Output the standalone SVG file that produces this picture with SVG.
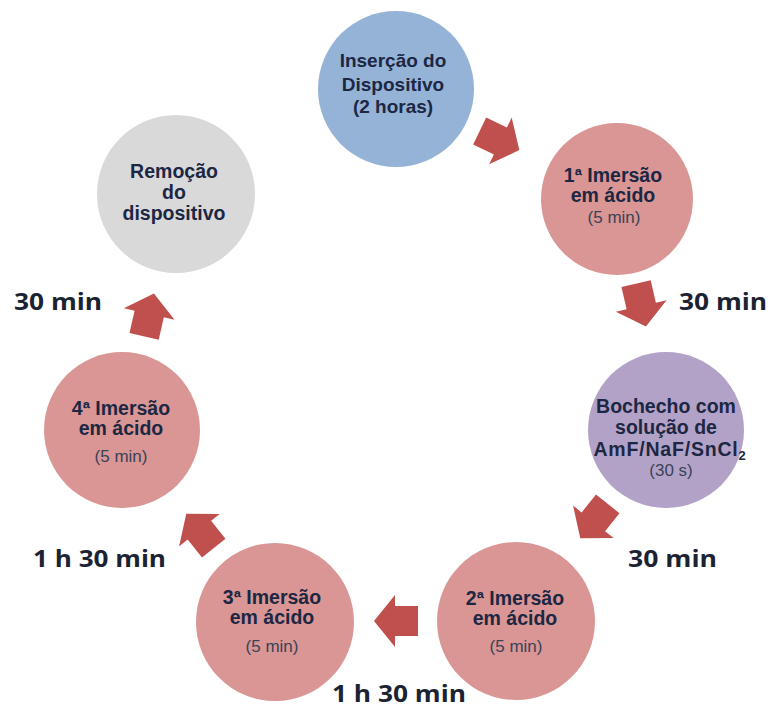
<svg xmlns="http://www.w3.org/2000/svg" width="772" height="709" viewBox="0 0 772 709">
<defs>
<polygon id="arr" points="-22,-15 1,-15 1,-26 22,0 1,26 1,15 -22,15"/>
</defs>
<style>
.b{font-family:"Liberation Sans",Arial,sans-serif;font-weight:bold;font-size:19.5px;fill:#1c2743;text-anchor:middle}
.r{font-family:"Liberation Sans",Arial,sans-serif;font-size:17px;fill:#3a4258;text-anchor:middle}
.t{font-family:"Open Sans",sans-serif;font-weight:bold;font-size:24px;fill:#1b2333}
.arrow{fill:#c0504d}
</style>
<rect width="772" height="709" fill="#ffffff"/>
<g id="n1">
<circle cx="396" cy="89" r="78" fill="#95b3d7"/>
<text class="b" style="font-size:19px" x="393" y="67">Inserção do</text>
<text class="b" style="font-size:19px" x="393" y="90.5">Dispositivo</text>
<text class="b" style="font-size:19px" x="393" y="113">(2 horas)</text>
</g>
<g id="n2">
<circle cx="617" cy="199" r="76" fill="#d99694"/>
<text class="b" x="613" y="182">1ª Imersão</text>
<text class="b" x="613" y="202">em ácido</text>
<text class="r" x="614" y="222.5">(5 min)</text>
</g>
<g id="n3">
<circle cx="666" cy="430" r="78" fill="#b3a2c7"/>
<text class="b" x="666" y="413">Bochecho com</text>
<text class="b" x="666" y="434">solução de</text>
<text class="b" x="670" y="455.5" style="letter-spacing:0.8px">AmF/NaF/SnCl<tspan font-size="13" dy="4">2</tspan></text>
<text class="r" x="671" y="476">(30 s)</text>
</g>
<g id="n4">
<circle cx="516" cy="621" r="79" fill="#d99694"/>
<text class="b" x="515" y="604.5">2ª Imersão</text>
<text class="b" x="515" y="624.5">em ácido</text>
<text class="r" x="516" y="652">(5 min)</text>
</g>
<g id="n5">
<circle cx="275" cy="622" r="79" fill="#d99694"/>
<text class="b" x="272" y="604">3ª Imersão</text>
<text class="b" x="272" y="624">em ácido</text>
<text class="r" x="272" y="652">(5 min)</text>
</g>
<g id="n6">
<circle cx="122" cy="430" r="78" fill="#d99694"/>
<text class="b" x="121" y="414.5">4ª Imersão</text>
<text class="b" x="121" y="434.5">em ácido</text>
<text class="r" x="121" y="462">(5 min)</text>
</g>
<g id="n7">
<circle cx="176" cy="194" r="79" fill="#d9d9d9"/>
<text class="b" x="174" y="177.5">Remoção</text>
<text class="b" x="174" y="198.5">do</text>
<text class="b" x="174" y="219.5">dispositivo</text>
</g>
<g id="connectors" class="arrow">
<use href="#arr" transform="translate(499.5,140.5) rotate(25.7)"/>
<use href="#arr" transform="translate(641,305) rotate(77.1)"/>
<use href="#arr" transform="translate(594,521) rotate(128.6)"/>
<use href="#arr" transform="translate(396,621) rotate(180)"/>
<use href="#arr" transform="translate(200,531) rotate(231.4)"/>
<use href="#arr" transform="translate(149,315) rotate(282.9)"/>
</g>
<g id="labels">
<text class="t" x="679" y="310" textLength="88" lengthAdjust="spacingAndGlyphs">30 min</text>
<text class="t" x="628" y="567" textLength="89" lengthAdjust="spacingAndGlyphs">30 min</text>
<text class="t" x="332" y="702" textLength="134" lengthAdjust="spacingAndGlyphs">1 h 30 min</text>
<text class="t" x="33" y="566.5" textLength="133" lengthAdjust="spacingAndGlyphs">1 h 30 min</text>
<text class="t" x="14" y="309.5" textLength="88" lengthAdjust="spacingAndGlyphs">30 min</text>
</g>
</svg>
